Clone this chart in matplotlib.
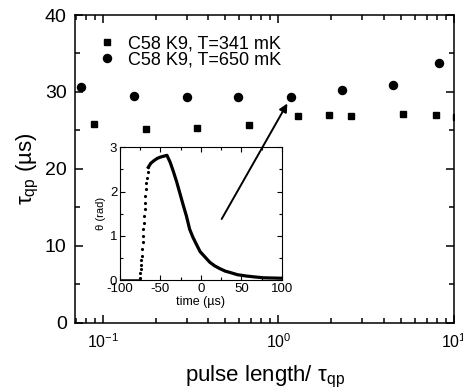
import matplotlib
matplotlib.use('Agg')
from matplotlib import pyplot as plt
from matplotlib.ticker import MultipleLocator, LogLocator, NullFormatter

plt.rcParams['font.family'] = ['Liberation Sans', 'DejaVu Sans']
plt.rcParams['mathtext.fontset'] = 'custom'
plt.rcParams['mathtext.rm'] = 'Liberation Sans'
plt.rcParams['mathtext.it'] = 'Liberation Sans:italic'
plt.rcParams['axes.unicode_minus'] = False

# main data: pulse length / tau_qp vs tau_qp (us)
x_341 = [0.0897, 0.176, 0.346, 0.678, 1.30, 1.93, 2.58, 5.13, 7.9, 10.3]
y_341 = [25.8, 25.2, 25.35, 25.65, 26.85, 26.95, 26.9, 27.1, 26.95, 26.7]
x_650 = [0.0752, 0.151, 0.30, 0.59, 1.18, 2.3, 4.48, 8.2]
y_650 = [30.6, 29.45, 29.3, 29.4, 29.4, 30.2, 30.95, 33.75]
labels = ['C58 K9, T=341 mK', 'C58 K9, T=650 mK']

# inset: phase response theta (rad) vs time (us)
t_base = [-100, -75]
th_base = [0.0, 0.0]
t_rise = [-75, -75, -74.5, -74, -73.5, -73, -72.5, -72, -71.5, -71, -70.5,
          -70, -69.5, -69, -68.5, -68, -67.5, -67, -66, -65]
th_rise = [0.05, 0.15, 0.25, 0.35, 0.45, 0.55, 0.7, 0.85, 1.0, 1.15, 1.3,
           1.45, 1.6, 1.75, 1.9, 2.05, 2.2, 2.3, 2.45, 2.55]
t_decay = [-65, -62, -58, -54, -50, -46, -42, -38, -34, -30, -26, -22, -18,
           -14, -10, -6, -1, 5, 11, 17, 23, 30, 36, 45, 56, 66, 77, 88, 100]
th_decay = [2.55, 2.64, 2.70, 2.75, 2.78, 2.80, 2.82, 2.66, 2.45, 2.22, 1.96,
            1.70, 1.45, 1.15, 0.97, 0.82, 0.64, 0.52, 0.40, 0.32, 0.26, 0.20,
            0.17, 0.12, 0.09, 0.07, 0.05, 0.045, 0.04]

fig = plt.figure(figsize=(4.64, 3.89), dpi=100)
ax = fig.add_axes([0.1616, 0.1704, 0.8168, 0.791])

ax.plot(x_341, y_341, 's', color='black', markersize=5, label=labels[0])
ax.plot(x_650, y_650, 'o', color='black', markersize=5.8, label=labels[1])
ax.set_xscale('log')
ax.set_xlim(0.0695, 10)
ax.set_ylim(0, 40)
ax.yaxis.set_major_locator(MultipleLocator(10))
ax.yaxis.set_minor_locator(MultipleLocator(5))
ax.xaxis.set_minor_locator(LogLocator(base=10, subs=range(2, 10)))
ax.xaxis.set_minor_formatter(NullFormatter())
ax.tick_params(which='both', direction='in', top=True, right=True, width=1.1)
ax.tick_params(which='major', length=6, labelsize=14, pad=6)
ax.tick_params(axis='x', which='major', labelsize=11.5, pad=7)
ax.tick_params(which='minor', length=3.5)
for s in ax.spines.values():
    s.set_linewidth(1.1)
ax.set_xlabel(r'pulse length/ τ$_\mathregular{qp}$', fontsize=16, labelpad=9)
ax.set_ylabel(r'τ$_\mathregular{qp}$ (µs)', fontsize=16, labelpad=3)
ax.legend(loc='upper left', frameon=False, fontsize=13, handletextpad=0.6,
          borderaxespad=0.3, labelspacing=-0.07, handlelength=1.2,
          bbox_to_anchor=(0.022, 0.974))

# inset
ax_in = fig.add_axes([0.2586, 0.2802, 0.349, 0.341])
ax_in.plot(t_base, th_base, '-', color='black', lw=1.8)
ax_in.plot(t_rise, th_rise, '.', color='black', markersize=2.5)
ax_in.plot(t_decay, th_decay, '-', color='black', lw=2.3)
ax_in.set_xlim(-100, 100)
ax_in.set_ylim(0, 3)
ax_in.xaxis.set_major_locator(MultipleLocator(50))
ax_in.xaxis.set_minor_locator(MultipleLocator(25))
ax_in.yaxis.set_major_locator(MultipleLocator(1))
ax_in.yaxis.set_minor_locator(MultipleLocator(0.5))
ax_in.tick_params(which='both', direction='in', top=True, right=True,
                  width=0.8, labelsize=9.5, pad=2)
ax_in.tick_params(which='major', length=3.5)
ax_in.tick_params(which='minor', length=2)
for s in ax_in.spines.values():
    s.set_linewidth(0.8)
ax_in.set_xlabel('time (µs)', fontsize=9, labelpad=1)
ax_in.set_ylabel('θ (rad)', fontsize=8, labelpad=3)

ax_in.annotate('', xy=(1.125, 28.5), xycoords=ax.transData,
               xytext=(25.6, 1.38), textcoords='data',
               annotation_clip=False,
               arrowprops=dict(arrowstyle='-|>', color='black', lw=1.4,
                               mutation_scale=12, shrinkA=0, shrinkB=0))

fig.savefig('out.png', dpi=100)
